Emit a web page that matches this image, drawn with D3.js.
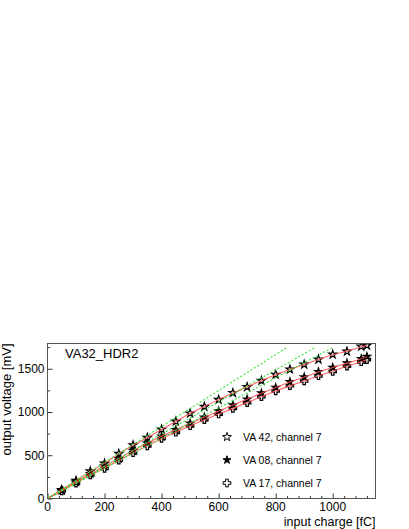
<!DOCTYPE html>
<html>
<head>
<meta charset="utf-8">
<script src="https://cdn.jsdelivr.net/npm/d3@7"></script>
<style>
  body { margin: 0; background: #fff; }
  svg text { font-family: "Liberation Sans", Arial, sans-serif; }
</style>
</head>
<body>
<div id="grafico"></div>
<script>
// input charge [fC]
var charges = [50, 100, 150, 200, 250, 300, 350, 400, 450, 500, 550, 600,
               650, 700, 750, 800, 850, 900, 950, 1000, 1050, 1100, 1120];
// output voltage [mV] per chip
var va42 = [100, 205, 315, 405, 518, 618, 703, 800, 890, 985, 1062, 1142,
            1222, 1290, 1362, 1433, 1493, 1550, 1607, 1665, 1700, 1757, 1770];
var va08 = [93, 190, 286, 374, 463, 553, 638, 720, 795, 870, 940, 1010,
            1080, 1148, 1218, 1283, 1348, 1403, 1464, 1515, 1565, 1615, 1640];
var va17 = [88, 178, 272, 347, 442, 528, 608, 694, 765, 840, 910, 976,
            1042, 1108, 1178, 1243, 1303, 1358, 1418, 1470, 1530, 1580, 1605];
// slopes of the linear fits to the low range [mV/fC]
var linSlopes = [2.08, 1.86, 1.745];
var linTop = 1745;

var seriesNames = ["VA 42, channel 7", "VA 08, channel 7", "VA 17, channel 7"];
var xTicks = [0, 200, 400, 600, 800, 1000];
var yTicks = [0, 500, 1000, 1500];

var width = 409, height = 529;
var frame = {left: 47.5, right: 375.5, top: 343.5, bottom: 498.5};

var svg = d3.select("#grafico").append("svg")
    .attr("width", width).attr("height", height);

var x = d3.scaleLinear().domain([0, 1150]).range([frame.left, frame.right]);
var y = d3.scaleLinear().domain([0, 1792]).range([frame.bottom, frame.top]);

var series = [va42, va08, va17].map(function(vals, i){
    return {
        name: seriesNames[i],
        slope: linSlopes[i],
        points: charges.map(function(c, j){ return {x: c, y: vals[j]}; })
    };
});

// clip for the plot area
svg.append("clipPath").attr("id", "plotclip")
  .append("rect")
    .attr("x", frame.left).attr("y", frame.top)
    .attr("width", frame.right - frame.left)
    .attr("height", frame.bottom - frame.top);

// axes: ticks drawn inward like ROOT
var xAxis = svg.append("g")
    .attr("transform", "translate(0," + frame.bottom + ")");
xAxis.call(d3.axisTop(x).tickValues(d3.range(0, 1150, 40)).tickSize(2.5).tickFormat(""));
xAxis.call(function(g){
    g.selectAll(".tick").filter(function(d){ return d % 200 === 0; })
      .select("line").attr("y2", -5);
});
xAxis.select(".domain").remove();
xAxis.selectAll("line").attr("stroke", "#333");

var xLab = svg.append("g").attr("font-size", "12px").attr("text-anchor", "middle");
xLab.selectAll("text").data(xTicks).enter().append("text")
    .attr("x", function(d){ return x(d); })
    .attr("y", frame.bottom + 12.5)
    .text(function(d){ return d; });

var yAxis = svg.append("g")
    .attr("transform", "translate(" + frame.left + ",0)");
yAxis.call(d3.axisRight(y).tickValues(d3.range(0, 1792, 250)).tickSize(2.5).tickFormat(""));
yAxis.call(function(g){
    g.selectAll(".tick").filter(function(d){ return d % 500 === 0; })
      .select("line").attr("x2", 5);
});
yAxis.select(".domain").remove();
yAxis.selectAll("line").attr("stroke", "#333");

var yLab = svg.append("g").attr("font-size", "12px").attr("text-anchor", "end");
yLab.selectAll("text").data(yTicks).enter().append("text")
    .attr("x", frame.left - 3)
    .attr("y", function(d){ return y(d); })
    .attr("dy", "0.36em")
    .text(function(d){ return d; });

// axis titles
svg.append("text")
    .attr("x", frame.right).attr("y", 525.5)
    .attr("text-anchor", "end").attr("font-size", "12.5px")
    .text("input charge [fC]");
svg.append("text")
    .attr("transform", "translate(11," + frame.top + ") rotate(-90)")
    .attr("text-anchor", "end").attr("font-size", "13px")
    .text("output voltage [mV]");

// title
svg.append("text")
    .attr("x", 65).attr("y", 358.3)
    .attr("font-size", "13px")
    .text("VA32_HDR2");

// markers
var markers = [
    {type: d3.symbolStar, size: 20, fill: "none"},
    {type: d3.symbolStar, size: 17, fill: "#000"},
    {type: d3.symbolCross, size: 30, fill: "none"}
];

var plot = svg.append("g").attr("clip-path", "url(#plotclip)");

series.forEach(function(s, i){
    var m = markers[i];
    plot.append("g").selectAll("path").data(s.points).enter().append("path")
        .attr("transform", function(d){ return "translate(" + x(d.x) + "," + y(d.y) + ")"; })
        .attr("d", d3.symbol().type(m.type).size(m.size))
        .attr("fill", m.fill)
        .attr("stroke", "#000")
        .attr("stroke-width", 1.2);
});

// fitted curves (red) through the measured points
var curve = d3.line()
    .x(function(d){ return x(d.x); })
    .y(function(d){ return y(d.y); })
    .curve(d3.curveBasis);

series.forEach(function(s){
    plot.append("path")
        .datum([{x: 0, y: 0}].concat(s.points))
        .attr("fill", "none")
        .attr("stroke", "#ff4d4d")
        .attr("stroke-opacity", 0.85)
        .attr("stroke-width", 1.1)
        .attr("d", curve);
});

// linear fits (green dashed)
var lin = d3.line()
    .x(function(d){ return x(d.x); })
    .y(function(d){ return y(d.y); });

series.forEach(function(s){
    plot.append("path")
        .datum([{x: 0, y: 0}, {x: linTop / s.slope, y: linTop}])
        .attr("fill", "none")
        .attr("stroke", "#33e633")
        .attr("stroke-width", 1.1)
        .attr("stroke-dasharray", "2,2")
        .attr("d", lin);
});

// frame
svg.append("rect")
    .attr("x", frame.left).attr("y", frame.top)
    .attr("width", frame.right - frame.left)
    .attr("height", frame.bottom - frame.top)
    .attr("fill", "none")
    .attr("stroke", "#555")
    .attr("stroke-width", 1);

// legend
var legend = svg.append("g");
var legRows = [437, 460, 483];
series.forEach(function(s, i){
    var m = markers[i];
    legend.append("path")
        .attr("transform", "translate(227," + legRows[i] + ")")
        .attr("d", d3.symbol().type(m.type).size(m.type === d3.symbolCross ? 34 : (m.fill === "none" ? 24 : 20)))
        .attr("fill", m.fill)
        .attr("stroke", "#000")
        .attr("stroke-width", 1);
    legend.append("text")
        .attr("x", 243).attr("y", legRows[i])
        .attr("dy", "0.36em")
        .attr("font-size", "10.5px")
        .text(s.name);
});
</script>
</body>
</html>
